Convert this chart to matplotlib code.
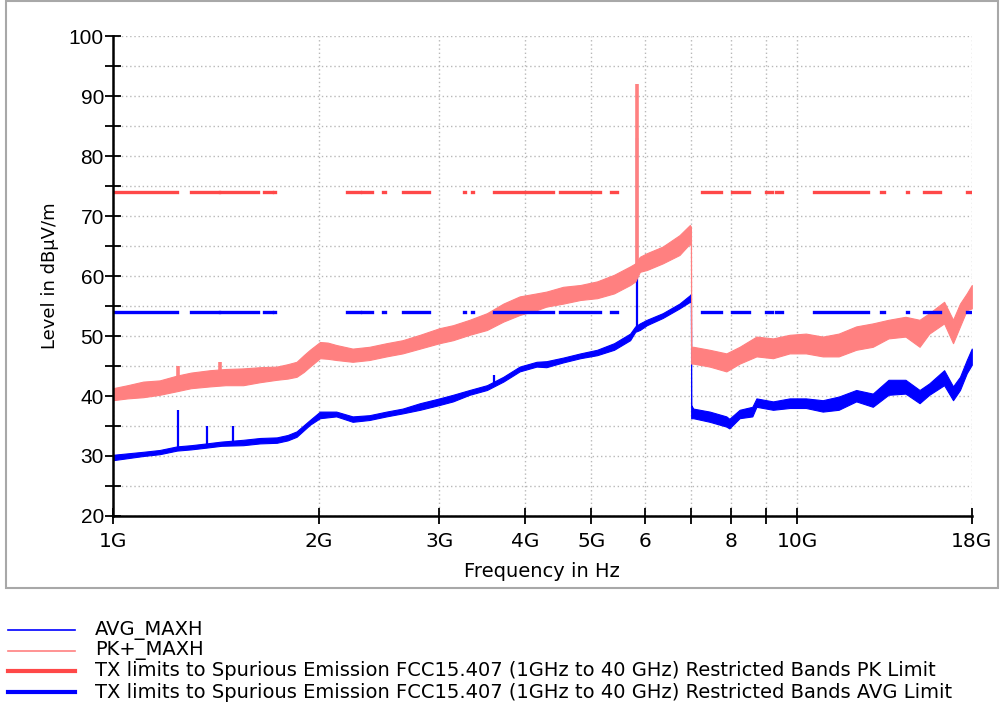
import matplotlib
matplotlib.use("Agg")
import matplotlib.pyplot as plt
from matplotlib.lines import Line2D
from matplotlib.patches import Rectangle
import numpy as np

pk_f = [1.00, 1.05, 1.107, 1.17, 1.24, 1.30, 1.386, 1.46, 1.55, 1.64, 1.735, 1.80, 1.855, 1.90, 1.94,
        2.007, 2.06, 2.12, 2.24, 2.37, 2.51, 2.65, 2.81, 3.00, 3.14, 3.32, 3.52, 3.72, 3.93, 4.16,
        4.30, 4.55, 4.82, 5.10, 5.40, 5.70, 5.80, 5.89, 6.03, 6.36, 6.73, 6.97, 6.995, 7.00, 7.05,
        7.45, 7.88, 8.24, 8.72, 9.22, 9.75, 10.3, 10.9, 11.5, 12.2, 12.9, 13.6, 14.4, 15.1, 15.6,
        16.4, 16.9, 17.3, 17.7, 18.0]
pk_lo = [39.3, 39.6, 39.8, 40.2, 40.8, 41.3, 41.6, 41.8, 41.8, 42.3, 42.7, 42.9, 43.2, 44.0, 44.9,
         46.3, 46.2, 46.0, 45.7, 46.0, 46.6, 47.1, 47.9, 48.8, 49.3, 50.2, 51.0, 52.4, 53.5, 54.3,
         54.9, 55.4, 56.0, 56.3, 57.1, 58.5, 59.1, 60.7, 61.0, 62.1, 63.5, 65.4, 65.0, 45.4, 45.4,
         44.9, 44.1, 45.4, 46.6, 46.3, 47.1, 47.1, 46.6, 46.6, 47.7, 48.2, 49.6, 49.9, 48.2, 50.4,
         52.1, 48.8, 51.6, 54.3, 54.6]
pk_hi = [41.3, 41.8, 42.4, 42.6, 43.4, 43.9, 44.3, 44.5, 44.6, 44.8, 44.9, 45.3, 45.7, 46.8, 47.7,
         49.0, 48.9, 48.5, 47.9, 48.2, 48.8, 49.3, 50.2, 51.3, 51.8, 52.7, 53.8, 55.4, 56.6, 57.1,
         57.4, 58.2, 58.5, 59.1, 60.2, 61.6, 62.1, 63.2, 63.8, 64.9, 66.8, 68.5, 68.2, 48.2, 48.2,
         47.7, 47.1, 48.2, 49.9, 49.6, 50.2, 50.4, 49.9, 50.4, 51.6, 52.1, 52.7, 53.2, 52.7, 53.8,
         55.7, 52.7, 55.4, 57.1, 58.5]

# AVG_MAXH trace
avg_f = [1.00, 1.107, 1.17, 1.24, 1.30, 1.37, 1.44, 1.55, 1.64, 1.735, 1.80, 1.855, 1.94, 2.007, 2.12,
         2.24, 2.37, 2.51, 2.65, 2.81, 3.00, 3.14, 3.32, 3.52, 3.72, 3.93, 4.16, 4.30, 4.55, 4.82,
         5.10, 5.40, 5.70, 5.80, 5.89, 6.03, 6.36, 6.73, 6.97, 6.995, 7.00, 7.05, 7.45, 7.88, 7.96,
         8.24, 8.60, 8.72, 9.22, 9.75, 10.3, 10.9, 11.5, 12.2, 12.9, 13.6, 14.4, 15.1, 15.6, 16.4,
         16.9, 17.3, 17.7, 18.0]
avg_lo = [29.3, 30.0, 30.3, 30.9, 31.1, 31.4, 31.7, 31.8, 32.1, 32.2, 32.6, 33.2, 35.2, 36.3, 36.6,
          35.7, 36.0, 36.6, 37.1, 37.7, 38.5, 39.1, 40.2, 41.0, 42.4, 44.1, 44.9, 44.8, 45.6, 46.3,
          46.8, 47.7, 49.3, 50.7, 51.0, 51.8, 53.0, 54.6, 55.7, 55.8, 36.3, 36.3, 35.7, 34.9, 34.6,
          36.3, 36.6, 38.2, 37.7, 38.0, 38.0, 37.4, 37.7, 39.1, 38.2, 40.2, 40.4, 38.8, 40.2, 41.8,
          39.3, 41.0, 43.8, 45.2]
avg_hi = [30.2, 30.7, 31.0, 31.6, 31.8, 32.1, 32.4, 32.7, 33.0, 33.1, 33.5, 34.1, 36.0, 37.4, 37.4,
          36.6, 36.8, 37.4, 37.9, 38.8, 39.6, 40.2, 41.0, 41.8, 43.2, 44.9, 45.7, 45.8, 46.4, 47.1,
          47.7, 48.8, 50.4, 51.6, 52.1, 52.7, 53.8, 55.4, 56.8, 57.0, 38.5, 37.9, 37.4, 36.6, 36.2,
          37.7, 38.2, 39.6, 39.1, 39.6, 39.6, 39.3, 39.9, 41.0, 40.4, 42.7, 42.7, 41.0, 42.1, 44.3,
          41.6, 43.2, 46.0, 47.9]

# narrow spikes (GHz, from, to)
pk_spike_f = [1.245, 1.433, 5.835]
pk_spike_lo = [43.0, 44.0, 61.0]
pk_spike_hi = [45.0, 45.6, 92.0]
avg_spike_f = [1.245, 1.37, 1.50, 3.60, 5.835]
avg_spike_lo = [31.0, 31.5, 32.0, 42.0, 51.0]
avg_spike_hi = [37.7, 35.0, 35.0, 43.5, 83.0]

# restricted bands (GHz) where the limit lines are drawn
band_lo = [1.0, 1.3, 1.435, 1.6455, 1.66, 1.7188, 2.2, 2.31, 2.4835, 2.655, 3.26, 3.332, 3.3458,
           3.6, 4.5, 5.35, 7.25, 8.025, 9.0, 9.3, 10.6, 13.25, 14.47, 15.35, 17.7]
band_hi = [1.24, 1.427, 1.6265, 1.6465, 1.71, 1.7222, 2.3, 2.39, 2.5, 2.9, 3.267, 3.339, 3.358,
           4.4, 5.15, 5.46, 7.75, 8.5, 9.2, 9.5, 12.7, 13.4, 14.5, 16.2, 18.0]
pk_limit = 74.0
avg_limit = 54.0

xticks = [1, 2, 3, 4, 5, 6, 7, 8, 9, 10, 18]
xlabels = ["1G", "2G", "3G", "4G", "5G", "6", "", "8", "", "10G", "18G"]

labels = ["AVG_MAXH", "PK+_MAXH",
          "TX limits to Spurious Emission FCC15.407 (1GHz to 40 GHz) Restricted Bands PK Limit",
          "TX limits to Spurious Emission FCC15.407 (1GHz to 40 GHz) Restricted Bands AVG Limit"]

c_avg = "#0000ff"
c_pk = "#ff8080"
c_pklim = "#ff4848"

fig = plt.figure(figsize=(10.01, 7.13), dpi=100)
ax = fig.add_axes([0.1129, 0.2763, 0.8579, 0.6732])

G = 1e9
ax.fill_between(np.array(avg_f) * G, avg_lo, avg_hi, color=c_avg, lw=0.8, zorder=2)
ax.vlines(np.array(avg_spike_f) * G, avg_spike_lo, avg_spike_hi, color=c_avg, lw=1.6, zorder=2)
ax.fill_between(np.array(pk_f) * G, pk_lo, pk_hi, color=c_pk, lw=0.8, zorder=3)
ax.vlines(np.array(pk_spike_f) * G, pk_spike_lo, pk_spike_hi, color=c_pk, lw=2.6, zorder=3)

for a, b in zip(band_lo, band_hi):
    ax.plot([a * G, b * G], [pk_limit, pk_limit], color=c_pklim, lw=2.4,
            solid_capstyle="projecting", zorder=4)
    ax.plot([a * G, b * G], [avg_limit, avg_limit], color=c_avg, lw=2.4,
            solid_capstyle="projecting", zorder=4)

ax.set_xscale("log")
ax.set_xlim(1 * G, 18 * G)
ax.set_ylim(20, 100)
ax.set_xticks([t * G for t in xticks])
ax.set_xticklabels(xlabels, fontsize=14.5)
ax.xaxis.set_minor_locator(matplotlib.ticker.NullLocator())
ax.set_yticks(np.arange(20, 101, 10))
ax.set_yticks(np.arange(25, 100, 10), minor=True)
for t in ax.get_yticklabels():
    t.set_family("Liberation Sans")
    t.set_fontsize(15)

ax.tick_params(axis="both", which="both", direction="inout", length=11, width=1.3, color="black")
ax.tick_params(axis="y", pad=1)
ax.tick_params(axis="x", pad=6)

ax.grid(True, which="both", axis="y", color="#b8b8b8", ls=(0, (1, 2)), lw=1.0)
ax.grid(True, which="major", axis="x", color="#b8b8b8", ls=(0, (1, 2)), lw=1.0)
ax.set_axisbelow(True)

for s in ["top", "right"]:
    ax.spines[s].set_visible(False)
for s in ["left", "bottom"]:
    ax.spines[s].set_linewidth(1.8)
    ax.spines[s].set_zorder(5)

ax.set_xlabel("Frequency in Hz", fontsize=14, labelpad=8)
ax.set_ylabel("Level in dB\u00b5V/m", fontsize=13, labelpad=7)

# gray frame around the plot region
fig.patches.append(Rectangle((0.006, 0.176), 0.991, 0.822, transform=fig.transFigure,
                             fill=False, ec="#a8a8a8", lw=1.5))

# legend rows under the frame
handle_lw = [1.2, 1.2, 3.0, 3.0]
handle_c = [c_avg, c_pk, c_pklim, c_avg]
row_y = [630, 651, 671, 692]
for lab, c, w, yp in zip(labels, handle_c, handle_lw, row_y):
    yf = 1 - yp / 713
    fig.add_artist(Line2D([0.008, 0.075], [yf, yf], transform=fig.transFigure, color=c, lw=w))
    fig.text(0.095, yf, lab, fontsize=14, va="center", ha="left")

fig.savefig("out.png", dpi=100)
